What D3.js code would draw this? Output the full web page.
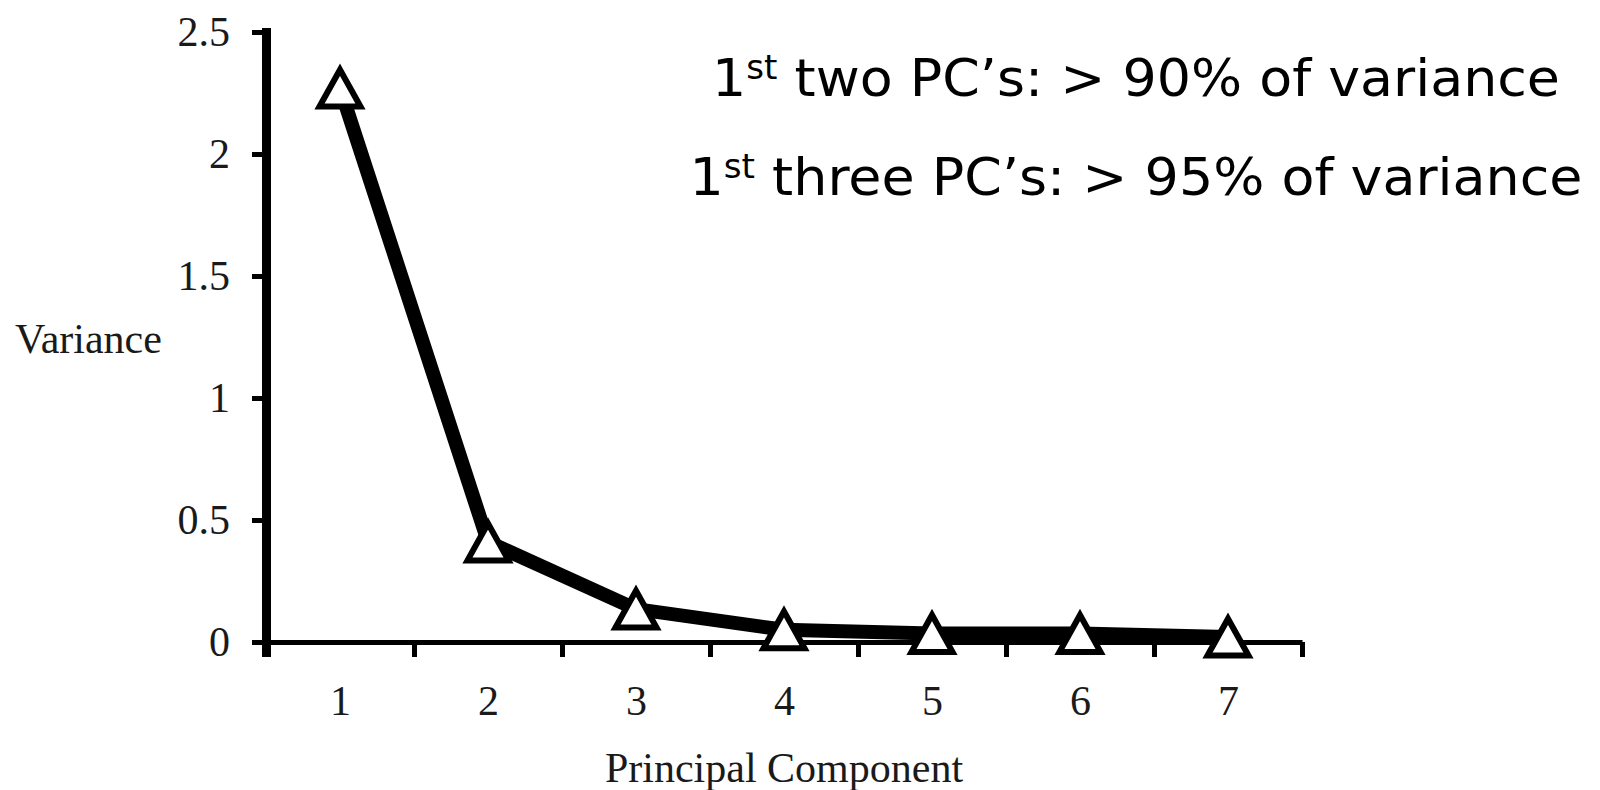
<!DOCTYPE html>
<html>
<head>
<meta charset="utf-8">
<script src="https://cdn.jsdelivr.net/npm/d3@7"></script>
<style>
  body { margin: 0; background: #fff; }
  svg { display: block; }
</style>
</head>
<body>
<div id="scree-plot"></div>
<script>
// data
const components = [1, 2, 3, 4, 5, 6, 7];
const variance = [2.27, 0.41, 0.135, 0.05, 0.035, 0.035, 0.02];
const yTickValues = [0, 0.5, 1, 1.5, 2, 2.5];
const noteLead = ["1", "1"];
const noteSup = ["st", "st"];
const noteText = [" two PC\u2019s: > 90% of variance", " three PC\u2019s: > 95% of variance"];

const width = 1600, height = 790;
const serif = "'Liberation Serif', 'Times New Roman', serif";

const svg = d3.select("#scree-plot")
  .append("svg")
    .attr("width", width)
    .attr("height", height);

// category axis: ticks sit between the categories
const x = d3.scaleLinear()
  .domain([0.5, components.length + 0.5])
  .range([266, 1302]);

const y = d3.scaleLinear()
  .domain([0, 2.5])
  .range([642, 32]);

// X axis (boundary ticks)
const xAxis = svg.append("g")
  .attr("transform", "translate(0," + y(0) + ")")
  .call(d3.axisBottom(x)
    .tickValues(d3.range(0.5, components.length + 1, 1))
    .tickSize(15)
    .tickSizeOuter(0)
    .tickFormat(""));
xAxis.select(".domain").attr("stroke", "#000").attr("stroke-width", 5);
xAxis.selectAll(".tick line").attr("stroke", "#000").attr("stroke-width", 5);
xAxis.select(".tick line").attr("stroke-width", 9); // runs on from the y axis

// X labels
const xLabels = svg.append("g")
  .attr("transform", "translate(0," + y(0) + ")")
  .call(d3.axisBottom(x)
    .tickValues(components)
    .tickSize(0)
    .tickPadding(43)
    .tickFormat(d3.format("d")));
xLabels.select(".domain").remove();
xLabels.selectAll("text")
  .attr("font-family", serif)
  .attr("font-size", 42)
  .attr("fill", "#1a1a1a");

// Y axis
const yAxis = svg.append("g")
  .attr("transform", "translate(" + x(0.5) + ",0)")
  .call(d3.axisLeft(y)
    .tickValues(yTickValues)
    .tickSize(14)
    .tickSizeOuter(0)
    .tickPadding(22)
    .tickFormat(d => d3.format("")(d)));
yAxis.select(".domain").attr("stroke", "#000").attr("stroke-width", 9).attr("stroke-linecap", "square");
yAxis.selectAll(".tick line").attr("stroke", "#000").attr("stroke-width", 5);
yAxis.selectAll("text")
  .attr("font-family", serif)
  .attr("font-size", 42)
  .attr("fill", "#1a1a1a");

// axis titles
svg.append("text")
  .attr("x", 15)
  .attr("y", 353)
  .attr("font-family", serif)
  .attr("font-size", 42)
  .attr("fill", "#1a1a1a")
  .text("Variance");

svg.append("text")
  .attr("x", (x.range()[0] + x.range()[1]) / 2)
  .attr("y", 782)
  .attr("text-anchor", "middle")
  .attr("font-family", serif)
  .attr("font-size", 42)
  .attr("fill", "#1a1a1a")
  .text("Principal Component");

// line
const points = components.map((c, i) => ({ pc: c, v: variance[i] }));

svg.append("path")
  .datum(points)
  .attr("fill", "none")
  .attr("stroke", "#000")
  .attr("stroke-width", 14)
  .attr("stroke-linejoin", "miter")
  .attr("d", d3.line().x(d => x(d.pc)).y(d => y(d.v)));

// open triangle markers, box-centred on the point
const boxTriangle = {
  draw(context, size) {
    const w = Math.sqrt(size);
    context.moveTo(0, -w * 0.45);
    context.lineTo(w * 0.5, w * 0.45);
    context.lineTo(-w * 0.5, w * 0.45);
    context.closePath();
  }
};

svg.append("g")
  .selectAll("path")
  .data(points)
  .enter()
  .append("path")
    .attr("transform", d => "translate(" + x(d.pc) + "," + y(d.v) + ")")
    .attr("d", d3.symbol().type(boxTriangle).size(41 * 41))
    .attr("fill", "#fff")
    .attr("stroke", "#000")
    .attr("stroke-width", 6)
    .attr("stroke-linejoin", "miter");

// annotation
const noteY = [96, 195];
const noteWidth = [848, 893];
noteText.forEach((t, i) => {
  const txt = svg.append("text")
    .attr("x", 1136)
    .attr("y", noteY[i])
    .attr("text-anchor", "middle")
    .attr("font-family", "'DejaVu Sans', Verdana, sans-serif")
    .attr("font-size", 52)
    .attr("fill", "#000")
    .attr("textLength", noteWidth[i])
    .attr("lengthAdjust", "spacingAndGlyphs");
  txt.append("tspan").text(noteLead[i]);
  txt.append("tspan").attr("font-size", 33).attr("dy", -17).text(noteSup[i]);
  txt.append("tspan").attr("dy", 17).text(noteText[i]);
});
</script>
</body>
</html>
